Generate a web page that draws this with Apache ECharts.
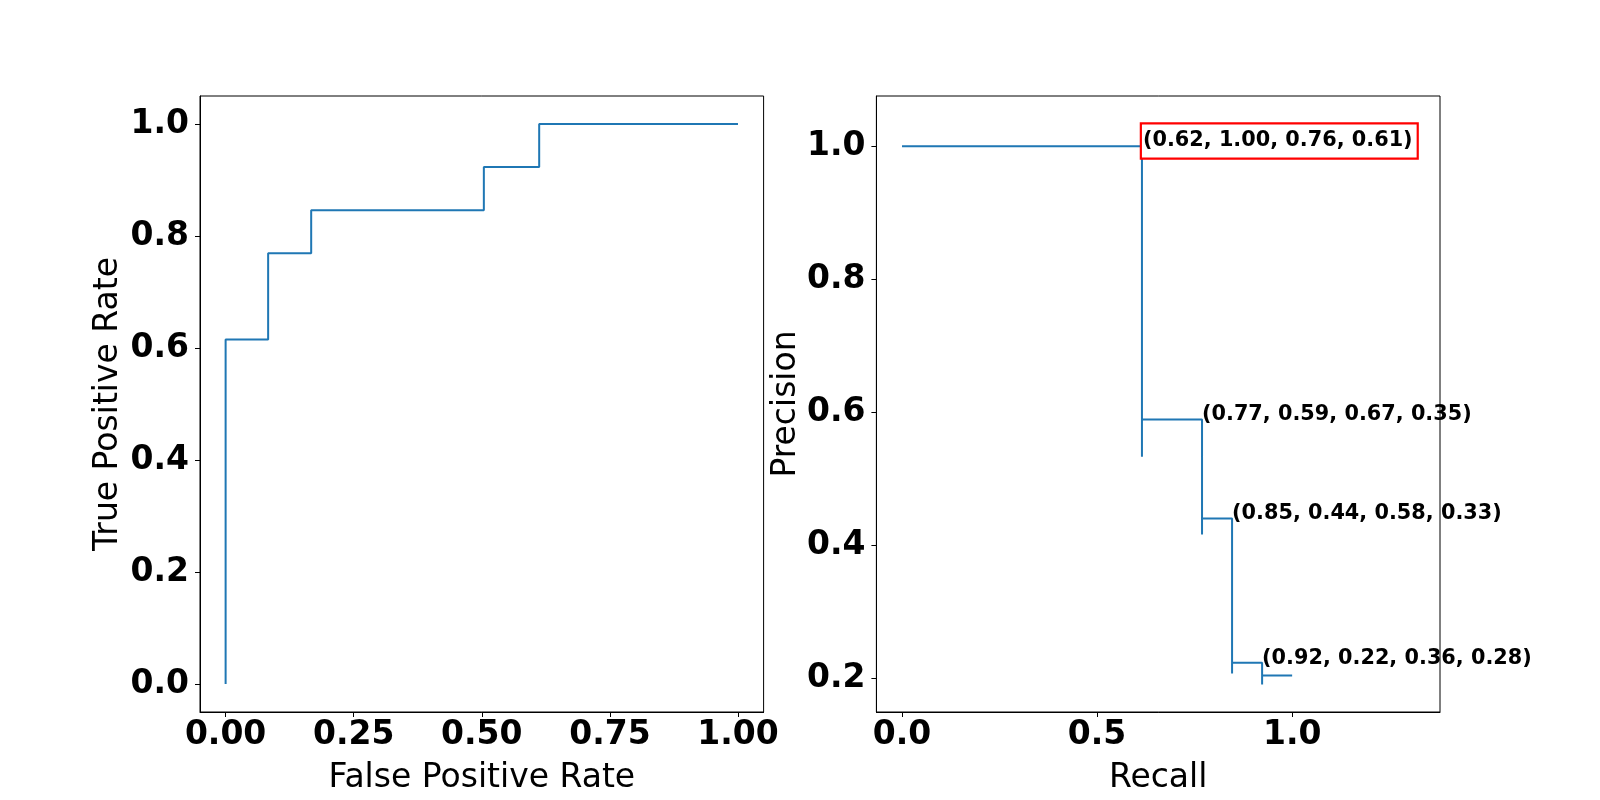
<!DOCTYPE html>
<html>
<head>
<meta charset="utf-8">
<script src="https://cdn.jsdelivr.net/npm/echarts@6/dist/echarts.min.js"></script>
<style>
  html, body { margin: 0; padding: 0; background: #fff; }
  #chart { width: 1600px; height: 800px; }
</style>
</head>
<body>
<div id="chart"></div>
<script>
// ROC curve (step, post)
const fpr = [0, 0, 0.083, 0.167, 0.504, 0.612, 1.0];
const tpr = [0, 0.615, 0.769, 0.846, 0.923, 1.0, 1.0];

// Precision-recall curve vertices
const recall =    [0, 0.615, 0.615, 0.615, 0.769, 0.769, 0.769, 0.846, 0.846, 0.846, 0.923, 0.923, 0.923, 1.0];
const precision = [1.0, 1.0, 0.533, 0.589, 0.589, 0.416, 0.440, 0.440, 0.207, 0.223, 0.223, 0.1905, 0.204, 0.204];

// Annotations
const annoRecall = [0.615, 0.769, 0.846, 0.923];
const annoPrecision = [1.0, 0.589, 0.440, 0.223];
const annoText = ["(0.62, 1.00, 0.76, 0.61)", "(0.77, 0.59, 0.67, 0.35)", "(0.85, 0.44, 0.58, 0.33)", "(0.92, 0.22, 0.36, 0.28)"];
const annoBoxed = [true, false, false, false];

// Tick values
const rocXTicks = [0, 0.25, 0.5, 0.75, 1.0];
const rocYTicks = [0, 0.2, 0.4, 0.6, 0.8, 1.0];
const prXTicks = [0, 0.5, 1.0];
const prYTicks = [0.2, 0.4, 0.6, 0.8, 1.0];

const FONT = 'DejaVu Sans';
const BLUE = '#1f77b4';

function axis(gridIndex, min, max, ticks, decimals, name, nameGap, isY) {
  return {
    type: 'value', gridIndex, min, max,
    name, nameLocation: 'middle', nameGap,
    nameTextStyle: { fontFamily: FONT, fontSize: 33, color: '#000' },
    axisLine: { show: true, onZero: false, lineStyle: { color: '#000', width: 1 } },
    axisTick: { show: true, inside: false, length: 5, customValues: ticks, lineStyle: { color: '#000', width: 1 } },
    axisLabel: {
      show: true, customValues: ticks, margin: isY ? 11 : 7,
      fontFamily: FONT, fontSize: 33, fontWeight: 'bold', color: '#000',
      formatter: v => Number(v).toFixed(decimals)
    },
    splitLine: { show: false }
  };
}

const rocData = fpr.map((x, i) => [x, tpr[i]]);
const prData = recall.map((x, i) => [x, precision[i]]);
const annoData = annoRecall.map((x, i) => {
  const item = { value: [x, annoPrecision[i]], name: annoText[i] };
  if (annoBoxed[i]) {
    item.label = {
      borderColor: '#ff0000', borderWidth: 2.2, backgroundColor: '#ffffff',
      padding: [4.5, 4, 7.7, 1], offset: [0, -5.2]
    };
  }
  return item;
});

const chart = echarts.init(document.getElementById('chart'), null, { renderer: 'canvas' });
chart.setOption({
  animation: false,
  backgroundColor: '#fff',
  grid: [
    { left: 200, top: 96, width: 563.6, height: 616, show: true, borderColor: '#000', borderWidth: 1, backgroundColor: 'transparent' },
    { left: 876.4, top: 96, width: 563.6, height: 616, show: true, borderColor: '#000', borderWidth: 1, backgroundColor: 'transparent' }
  ],
  xAxis: [
    axis(0, -0.05, 1.05, rocXTicks, 2, 'False Positive Rate', 49.5, false),
    axis(1, -0.0657, 1.379, prXTicks, 1, 'Recall', 49.5, false)
  ],
  yAxis: [
    axis(0, -0.05, 1.05, rocYTicks, 1, 'True Positive Rate', 75, true),
    axis(1, 0.149, 1.0755, prYTicks, 1, 'Precision', 67, true)
  ],
  series: [
    {
      type: 'line', xAxisIndex: 0, yAxisIndex: 0, data: rocData, step: 'end',
      showSymbol: false, symbol: 'none', lineStyle: { color: BLUE, width: 2 }, z: 3
    },
    {
      type: 'line', xAxisIndex: 1, yAxisIndex: 1, data: prData,
      showSymbol: false, symbol: 'none', lineStyle: { color: BLUE, width: 2 }, z: 3
    },
    {
      type: 'scatter', xAxisIndex: 1, yAxisIndex: 1, data: annoData,
      symbol: 'rect', symbolSize: 0.01, itemStyle: { color: BLUE, opacity: 1 }, clip: false, z: 4,
      label: {
        show: true, position: [0, 0], align: 'left', verticalAlign: 'middle', offset: [0, -4.5],
        fontFamily: FONT, fontSize: 20.8, fontWeight: 'bold', color: '#000000', opacity: 1,
        textBorderWidth: 0,
        formatter: p => p.name
      },
      emphasis: { disabled: true }
    }
  ]
});
</script>
</body>
</html>
